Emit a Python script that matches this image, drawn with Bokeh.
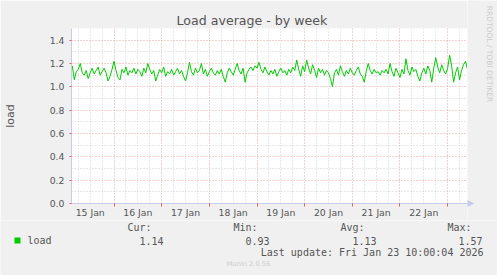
from datetime import datetime, timedelta
from math import pi

from bokeh.plotting import figure
from bokeh.layouts import column, row
from bokeh.models import (Range1d, FixedTicker, PrintfTickFormatter, Label, Title, Plot,
                          ColumnDataSource, BoxAnnotation, Arrow, NormalHead)
from bokeh.embed import file_html
from bokeh.resources import INLINE

# ---------------- data ----------------
title_text = "Load average - by week"
y_label = "load"
series_name = "load"
series_start = datetime(2026, 1, 15, 3, 0)   # hourly samples
x_start = datetime(2026, 1, 15, 2, 35)
x_end = datetime(2026, 1, 23, 10, 0)

load_values = [
    1.18, 1.06, 1.13, 1.15, 1.20, 1.12, 1.10, 1.14, 1.07, 1.12,
    1.16, 1.11, 1.14, 1.17, 1.10, 1.13, 1.16, 1.12, 1.05, 1.09,
    1.15, 1.22, 1.14, 1.08, 1.06, 1.15, 1.12, 1.17, 1.10, 1.14,
    1.12, 1.16, 1.11, 1.15, 1.13, 1.09, 1.16, 1.12, 1.20, 1.15,
    1.11, 1.14, 1.05, 1.10, 1.15, 1.12, 1.17, 1.09, 1.13, 1.11,
    1.15, 1.10, 1.13, 1.16, 1.11, 1.14, 1.09, 1.05, 1.12, 1.21,
    1.13, 1.10, 1.16, 1.12, 1.14, 1.20, 1.11, 1.15, 1.09, 1.13,
    1.16, 1.12, 1.10, 1.14, 1.11, 1.15, 1.09, 1.04, 1.12, 1.16,
    1.13, 1.10, 1.15, 1.20, 1.14, 1.11, 1.16, 1.04, 1.12, 1.15,
    1.17, 1.14, 1.18, 1.16, 1.21, 1.15, 1.12, 1.17, 1.13, 1.10,
    1.14, 1.11, 1.15, 1.09, 1.13, 1.16, 1.12, 1.14, 1.10, 1.15,
    1.12, 1.17, 1.14, 1.23, 1.15, 1.09, 1.18, 1.13, 1.23, 1.16,
    1.11, 1.19, 1.14, 1.08, 1.16, 1.12, 1.15, 1.10, 1.14, 1.12,
    1.07, 1.00, 1.12, 1.15, 1.10, 1.18, 1.13, 1.09, 1.14, 1.11,
    1.16, 1.12, 1.10, 1.14, 1.17, 1.11, 1.09, 1.04, 1.13, 1.20,
    1.14, 1.11, 1.15, 1.12, 1.13, 1.10, 1.14, 1.12, 1.15, 1.11,
    1.20, 1.13, 1.09, 1.16, 1.12, 1.08, 1.15, 1.11, 1.24, 1.14,
    1.10, 1.17, 1.13, 1.15, 1.09, 1.05, 1.12, 1.16, 1.11, 1.18,
    1.14, 1.04, 1.16, 1.25, 1.17, 1.12, 1.19, 1.14, 1.11, 1.16,
    1.27, 1.18, 1.04, 1.12, 1.17, 1.06, 1.14, 1.19, 1.22, 1.15,
]

day_labels = ["15 Jan", "16 Jan", "17 Jan", "18 Jan", "19 Jan", "20 Jan", "21 Jan", "22 Jan"]
y_major = [0.0, 0.2, 0.4, 0.6, 0.8, 1.0, 1.2, 1.4]
y_minor = [0.1, 0.3, 0.5, 0.7, 0.9, 1.1, 1.3, 1.5]

stat_names = ["Cur:", "Min:", "Avg:", "Max:"]
stat_values = ["1.14", "0.93", "1.13", "1.57"]
last_update = "Last update: Fri Jan 23 10:00:04 2026"
munin_version = "Munin 2.0.56"
rrd_credit = "RRDTOOL / TOBI OETIKER"

# ---------------- derived ----------------
EPOCH = datetime(1970, 1, 1)


def ms(d):
    return (d - EPOCH).total_seconds() * 1000.0


times = [series_start + timedelta(hours=i) for i in range(len(load_values))]
day_bounds = [datetime(2026, 1, 16) + timedelta(days=i) for i in range(8)]
six_hours = [datetime(2026, 1, 15, 6) + timedelta(hours=6 * i) for i in range(33)]
six_hours = [t for t in six_hours if t.hour != 0]
noons = [datetime(2026, 1, 15, 12) + timedelta(days=i) for i in range(len(day_labels))]

BG = "#F0F0F0"
TXT = "#555555"
MAJ = "#EBA0A0"
MIN = "#D0D0D0"
AX = "#C8CAEE"
GREEN = "#00CC00"
FAINT = "#CCCCCC"
TICKRED = "#E06060"

# ---------------- main chart ----------------
p = figure(width=467, height=220, x_axis_type="datetime",
           x_range=Range1d(ms(x_start), ms(x_end)), y_range=Range1d(0, 1.5),
           output_backend="svg", toolbar_location=None,
           min_border_left=67, min_border_right=0, min_border_top=28, min_border_bottom=17)
p.title = Title(text=title_text, align="left", offset=105, standoff=1,
                text_font="DejaVu Sans", text_font_size="12.6px",
                text_font_style="normal", text_color=TXT)
p.background_fill_color = "white"
p.border_fill_color = BG
p.outline_line_color = None

grid_xt = FixedTicker(ticks=[ms(d) for d in day_bounds], minor_ticks=[ms(d) for d in six_hours])
yt = FixedTicker(ticks=y_major, minor_ticks=y_minor)

p.xgrid.ticker = grid_xt
p.yaxis.ticker = yt
p.ygrid.ticker = yt

for g in (p.xgrid, p.ygrid):
    g.grid_line_color = MAJ
    g.grid_line_dash = "1 2"
    g.grid_line_width = 1
    g.minor_grid_line_color = MIN
    g.minor_grid_line_dash = "1 2"
    g.minor_grid_line_width = 1

# x axis: labels at noon, red marks at the day boundaries
xa = p.xaxis[0]
xa.ticker = FixedTicker(ticks=[ms(d) for d in noons], minor_ticks=[ms(d) for d in day_bounds])
xa.major_label_overrides = {ms(d): s for d, s in zip(noons, day_labels)}
xa.axis_line_color = AX
xa.major_tick_line_color = None
xa.major_tick_out = 0
xa.major_tick_in = 0
xa.minor_tick_line_color = TICKRED
xa.minor_tick_out = 3
xa.minor_tick_in = 0
xa.major_label_standoff = 0
xa.major_label_text_font = "DejaVu Sans"
xa.major_label_text_font_size = "9.3px"
xa.major_label_text_color = TXT

ya = p.yaxis[0]
ya.axis_line_color = AX
ya.major_tick_line_color = TICKRED
ya.major_tick_out = 2
ya.major_tick_in = 0
ya.minor_tick_line_color = None
ya.formatter = PrintfTickFormatter(format="%.1f")
ya.major_label_text_font = "DejaVu Sans"
ya.major_label_text_font_size = "9.3px"
ya.major_label_text_color = TXT
ya.major_label_standoff = 3
ya.axis_label = y_label
ya.axis_label_text_font = "DejaVu Sans"
ya.axis_label_text_font_size = "11px"
ya.axis_label_text_font_style = "normal"
ya.axis_label_text_color = TXT
ya.axis_label_standoff = 30

src = ColumnDataSource(dict(x=times, y=load_values))
p.line("x", "y", source=src, line_color=GREEN, line_width=1)

# ---------------- right strip (axis arrow head + rrdtool credit) ----------------
side = Plot(width=30, height=220, x_range=Range1d(467, 497), y_range=Range1d(220, 0),
            output_backend="svg", toolbar_location=None,
            min_border=0, min_border_left=0, min_border_right=0,
            min_border_top=0, min_border_bottom=0)
side.frame_align = False
side.background_fill_color = BG
side.border_fill_color = BG
side.outline_line_color = None
side.add_layout(Arrow(x_start=466, y_start=203, x_end=473, y_end=203,
                      end=NormalHead(size=6, fill_color=AX, line_color=AX),
                      line_color=AX, line_width=1))
side.add_layout(Label(x=488.5, y=53.5, text=rrd_credit, angle=-pi / 2,
                      text_align="center", text_baseline="middle",
                      text_font="DejaVu Sans", text_font_size="7.5px", text_color=FAINT))

# ---------------- legend strip ----------------
lg = Plot(width=497, height=55, x_range=Range1d(0, 497), y_range=Range1d(275, 220),
          output_backend="svg", toolbar_location=None,
          min_border=0, min_border_left=0, min_border_right=0,
          min_border_top=0, min_border_bottom=0)
lg.frame_align = False
lg.background_fill_color = BG
lg.border_fill_color = BG
lg.outline_line_color = None

MONO = dict(text_font="DejaVu Sans Mono", text_font_size="10px", text_color=TXT,
            text_baseline="middle")

lg.add_layout(BoxAnnotation(left=14, right=20, bottom=243, top=237,
                            fill_color=GREEN, fill_alpha=1, line_color=None))
lg.add_layout(Label(x=27, y=240, text=series_name, text_align="left", **MONO))

name_right = [151, 257, 364, 471]
val_right = [163, 269, 376, 482]
for nm, vl, nx, vx in zip(stat_names, stat_values, name_right, val_right):
    lg.add_layout(Label(x=nx, y=227, text=nm, text_align="right", **MONO))
    lg.add_layout(Label(x=vx, y=240, text=vl, text_align="right", **MONO))

lg.add_layout(Label(x=483, y=252, text=last_update, text_align="right", **MONO))
lg.add_layout(Label(x=248, y=263, text=munin_version, text_align="center", text_baseline="middle",
                    text_font="DejaVu Sans", text_font_size="6.7px", text_color=FAINT))

layout = column(row(p, side, spacing=0), lg, spacing=0)
open("out.html", "w").write(file_html(layout, INLINE))
